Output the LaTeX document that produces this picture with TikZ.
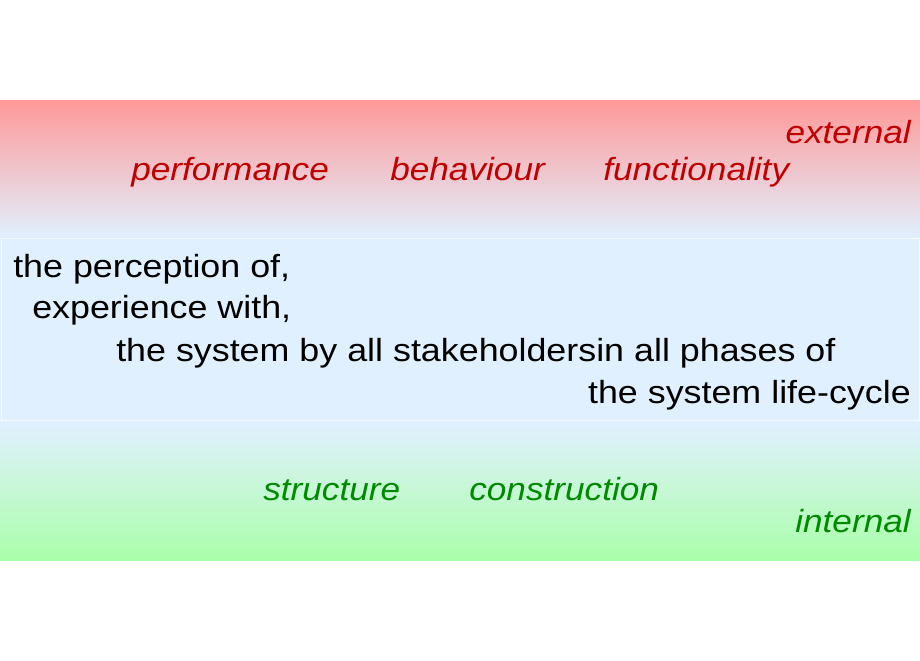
\documentclass[tikz,border=0pt]{standalone}
\usepackage{fontspec}
\setmainfont{Liberation Sans}
\newfontfamily\widesans[FakeStretch=1.12]{Liberation Sans}
\newfontfamily\wideslant[FakeStretch=1.10]{Liberation Sans Italic}
\definecolor{topred}{HTML}{FF9999}
\definecolor{paleblue}{HTML}{E0F0FE}
\definecolor{lowgreen}{HTML}{AAFFAA}
\definecolor{labred}{HTML}{C00000}
\definecolor{labgreen}{HTML}{008A00}
\tikzset{
  extlabel/.style={text=labred, font=\fontsize{24}{28}\wideslant, inner sep=0pt},
  intlabel/.style={text=labgreen, font=\fontsize{24}{28}\wideslant, inner sep=0pt},
  bodytext/.style={text=black, font=\fontsize{24}{28}\widesans, inner sep=0pt}
}
\begin{document}
\begin{tikzpicture}[x=0.75pt, y=-0.75pt]

        % === Frame ===
        \useasboundingbox (0,0) rectangle (920,660);

        % === Bands ===
        \shade[top color=topred, bottom color=paleblue] (0,100) rectangle (920,238);
        \fill[paleblue] (0,238) rectangle (920,425);
        \draw[white!60!paleblue, line width=0.6pt] (1,238) rectangle (919,420);
        \shade[top color=paleblue, bottom color=lowgreen] (0,425) rectangle (920,560);

        % === External view (red) ===
        \node[extlabel, anchor=base east] (external) at (911,143) {external};
        \node[extlabel, anchor=base west] (perf)  at (131,180) {performance};
        \node[extlabel, anchor=base west] (behav) at (390,180) {behaviour};
        \node[extlabel, anchor=base west] (func)  at (603,180) {functionality};

        % === Middle statement ===
        \node[bodytext, anchor=base west] (perc) at (13,277) {the perception of,};
        \node[bodytext, anchor=base west] (exper) at (32,318) {experience with,};
        \node[bodytext, anchor=base west] (bystake) at (116,361) {the system by all stakeholdersin all phases of};
        \node[bodytext, anchor=base east] (cycle) at (911,403) {the system life-cycle};

        % === Internal view (green) ===
        \node[intlabel, anchor=base west] (struct) at (263,500) {structure};
        \node[intlabel, anchor=base west] (constr) at (469,500) {construction};
        \node[intlabel, anchor=base east] (internal) at (911,532) {internal};

    \end{tikzpicture}
\end{document}
